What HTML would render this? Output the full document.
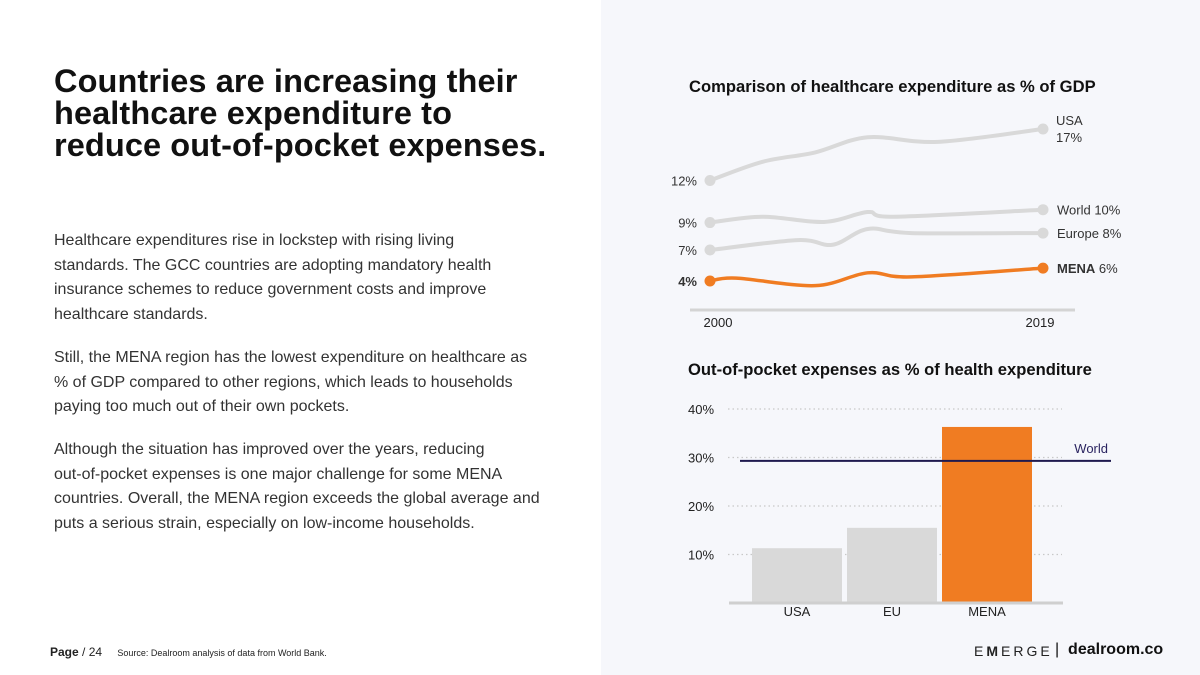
<!DOCTYPE html>
<html><head><meta charset="utf-8"><style>
body{margin:0;width:1200px;height:675px;position:relative;overflow:hidden;background:#fff;font-family:"Liberation Sans",sans-serif;}
#right{position:absolute;left:601px;top:0;width:599px;height:675px;background:#f6f7fb;}
h1{position:absolute;left:54px;top:65px;margin:0;font-size:32.5px;line-height:32px;font-weight:bold;color:#111;letter-spacing:0.1px;}
.body{position:absolute;left:54px;width:520px;font-size:16px;line-height:24.6px;color:#333;white-space:nowrap;}
.ct{position:absolute;font-size:16.6px;font-weight:bold;color:#111;}
#foot{position:absolute;left:50px;top:645px;font-size:12px;color:#222;}
</style></head><body>
<div id="right"></div>
<h1>Countries are increasing their<br>healthcare expenditure to<br>reduce out-of-pocket expenses.</h1>
<div class="body" style="top:229px">Healthcare expenditures rise in lockstep with rising living<br>standards. The GCC countries are adopting mandatory health<br>insurance schemes to reduce government costs and improve<br>healthcare standards.</div>
<div class="body" style="top:346px">Still, the MENA region has the lowest expenditure on healthcare as<br>% of GDP compared to other regions, which leads to households<br>paying too much out of their own pockets.</div>
<div class="body" style="top:438px">Although the situation has improved over the years, reducing<br>out-of-pocket expenses is one major challenge for some MENA<br>countries. Overall, the MENA region exceeds the global average and<br>puts a serious strain, especially on low-income households.</div>
<div class="ct" style="left:689px;top:77px">Comparison of healthcare expenditure as % of GDP</div>
<div class="ct" style="left:688px;top:360px">Out-of-pocket expenses as % of health expenditure</div>
<div id="foot"><b>Page</b> / 24 <span style="font-size:9px;margin-left:12px">Source: Dealroom analysis of data from World Bank.</span></div>
<div style="position:absolute;left:974px;top:643px;font-size:14px;color:#222;letter-spacing:3px">E<b>M</b>ERGE</div>
<div style="position:absolute;left:1055px;top:641px;font-size:16px;color:#111">| &nbsp;<b>dealroom.co</b></div>
<svg id="svg" width="1200" height="675" style="position:absolute;left:0;top:0"></svg>
<script>
const years=[2000,2003,2006,2009,2013,2019];
const usaVals=[12.6,14.2,15.0,16.3,15.9,17.0];
const worldYears=[2000,2003,2006.5,2009,2010.5,2019];
const worldVals=[9.0,9.5,9.05,9.9,9.5,10.1];
const euYears=[2000,2005,2007,2009,2011.5,2019];
const euVals=[6.65,7.5,7.1,8.45,8.1,8.1];
const menaYears=[2000,2001.5,2006,2009,2011.5,2019];
const menaVals=[4.0,4.25,3.6,4.7,4.35,5.1];
const startLabels=["12%","9%","7%","4%"];
const endLabels=["USA|17%","World 10%","Europe 8%","MENA 6%"];
const barCats=["USA","EU","MENA"];
const barVals=[11.3,15.5,36.3];
const worldAvg=29.3;
const barTicks=[10,20,30,40];

const NS="http://www.w3.org/2000/svg";
const svg=document.getElementById('svg');
function mk(t,a,p){const e=document.createElementNS(NS,t);for(const k in a)e.setAttribute(k,a[k]);(p||svg).appendChild(e);return e;}
const xL=y=>710+(y-2000)*(333/19);
const yL=v=>281-(v-4)*11.69;
function path(xs,ys){const P=xs.map((x,i)=>[xL(x),yL(ys[i])]);let d=`M${P[0][0]},${P[0][1]}`;
for(let i=0;i<P.length-1;i++){const p0=P[i-1]||P[i],p1=P[i],p2=P[i+1],p3=P[i+2]||p2;
d+=` C${p1[0]+(p2[0]-p0[0])/6},${p1[1]+(p2[1]-p0[1])/6} ${p2[0]-(p3[0]-p1[0])/6},${p2[1]-(p3[1]-p1[1])/6} ${p2[0]},${p2[1]}`;}return d;}
const series=[[years,usaVals,'#d9d9d9','usa'],[worldYears,worldVals,'#d9d9d9','world'],[euYears,euVals,'#d9d9d9','europe'],[menaYears,menaVals,'#f07c22','mena']];
mk('line',{x1:690,x2:1075,y1:310,y2:310,stroke:'#d4d4d4','stroke-width':3});
series.forEach((s,i)=>{
 const p=mk('path',{d:path(s[0],s[1]),fill:'none',stroke:s[2],'stroke-width':i==3?3.5:4,'stroke-linecap':'round'});
 
 
 [0,s[0].length-1].forEach(j=>{const c=mk('circle',{cx:xL(s[0][j]),cy:yL(s[1][j]),r:5.5,fill:s[2]});
  
  });
 const t=mk('text',{x:697,y:yL(s[1][0])+5,'text-anchor':'end','font-size':13,fill:'#333','font-weight':i==3?'bold':'normal'});t.textContent=startLabels[i];
 
 
 const yl=yL(s[1][s[1].length-1]);
 const parts=endLabels[i].split('|');
 if(parts.length>1){parts.forEach((pt,k)=>{const e=mk('text',{x:1056,y:yl-4+k*17,'font-size':13,fill:'#333'});e.textContent=pt;
  
  });}
 else{const e=mk('text',{x:1057,y:yl+5,'font-size':13,fill:'#333'});
  if(i==3){const b=mk('tspan',{'font-weight':'bold'},e);b.textContent='MENA';const r=mk('tspan',{},e);r.textContent=' 6%';}else e.textContent=parts[0];
  
  }
});
[[2000,718],[2019,1040]].forEach(([y,x])=>{const t=mk('text',{x:x,y:327,'text-anchor':'middle','font-size':13,fill:'#222'});t.textContent=y;
 
 });
const yB=v=>603-v*4.85;
barTicks.forEach(v=>{const l=mk('line',{x1:728,x2:1062,y1:yB(v),y2:yB(v),stroke:'#c8c8c8','stroke-width':1.3,'stroke-dasharray':'1.5 3'});
 
 
 const t=mk('text',{x:688,y:yB(v)+5,'font-size':13,fill:'#222'});t.textContent=v+'%';
 
 });
barCats.forEach((c,i)=>{const x=752+i*95;const r=mk('rect',{x:x,y:yB(barVals[i]),width:90,height:603-yB(barVals[i]),fill:i==2?'#f07c22':'#d9d9d9'});
 
 
 const t=mk('text',{x:x+45,y:616,'text-anchor':'middle','font-size':13,fill:'#222'});t.textContent=c;
 
 });
mk('line',{x1:729,x2:1063,y1:603,y2:603,stroke:'#cfcfcf','stroke-width':3});
const wl=mk('line',{x1:740,x2:1111,y1:yB(worldAvg),y2:yB(worldAvg),stroke:'#1f1a4f','stroke-width':2});


const wt=mk('text',{x:1108,y:yB(worldAvg)-8,'text-anchor':'end','font-size':13,fill:'#2a2460'});wt.textContent='World';


</script>
</body></html>
